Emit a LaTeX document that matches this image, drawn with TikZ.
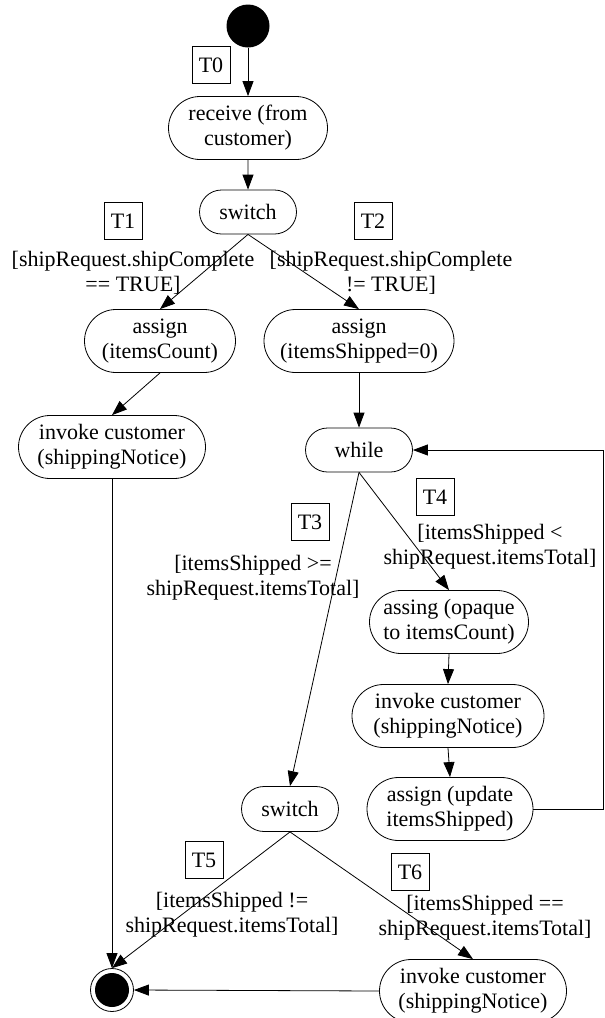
\documentclass[tikz,border=0pt]{standalone}
\usepackage{fontspec}
\setmainfont{Liberation Serif}
\usepackage{tikz}
\usetikzlibrary{shapes,arrows.meta,positioning}

\begin{document}
\begin{tikzpicture}[x=1pt, y=-1pt, line width=0.8pt,
    txt/.style={font=\fontsize{22}{25}\selectfont},
    act/.style={txt, draw, rounded rectangle, inner sep=0pt, minimum height=63pt, align=center},
    tbox/.style={txt, draw, rectangle, inner sep=0pt, minimum width=38pt, minimum height=37pt},
    guard/.style={txt, align=center, inner sep=0pt},
    tr/.style={-{Triangle[length=15pt,width=11pt]}},
    startnode/.style={circle, fill, inner sep=0pt, minimum size=43pt},
    endnode/.style={circle, draw, inner sep=0pt, minimum size=43pt,
        path picture={\fill (path picture bounding box.center) circle (17pt);}}]
    \useasboundingbox (0,0) rectangle (605,1018);

    % Start and receive
    \node[startnode] (start) at (248,26) {};
    \node[tbox] (t0) at (211,65) {T0};
    \node[act, minimum width=159pt] (rcv) at (248,128) {receive (from\\customer)};
    \node[act, minimum width=97pt, minimum height=44pt] (sw1) at (248,212) {switch};
    \draw[tr] (start) -- (rcv);
    \draw[tr] (rcv) -- (sw1);

    % First switch
    \node[tbox] (t1) at (123,221) {T1};
    \node[tbox] (t2) at (373,221) {T2};
    \node[guard] (g1) at (133,273) {[shipRequest.shipComplete\\== TRUE]};
    \node[guard] (g2) at (391,273) {[shipRequest.shipComplete\\!= TRUE]};
    \node[act, minimum width=151pt] (as1) at (160,341) {assign\\(itemsCount)};
    \node[act, minimum width=190pt] (as2) at (359,341) {assign\\(itemsShipped=0)};
    \node[act, minimum width=187pt] (inv1) at (112,447) {invoke customer\\(shippingNotice)};
    \draw[tr] (sw1.south) -- (as1.north);
    \draw[tr] (sw1.south) -- (as2.north);
    \draw[tr] (as1.south) -- (inv1.north);

    % While loop
    \node[act, minimum width=107pt, minimum height=44pt] (wh) at (359,450) {while};
    \node[tbox] (t3) at (310,522) {T3};
    \node[guard] (g3) at (253,578) {[itemsShipped >=\\shipRequest.itemsTotal]};
    \node[tbox] (t4) at (435,497) {T4};
    \node[guard] (g4) at (490,547) {[itemsShipped <\\shipRequest.itemsTotal]};
    \node[act, minimum width=159pt] (asg) at (449,622) {assing (opaque\\to itemsCount)};
    \node[act, minimum width=192pt] (inv2) at (448,716) {invoke customer\\(shippingNotice)};
    \node[act, minimum width=166pt] (as3) at (450,809) {assign (update\\itemsShipped)};
    \coordinate (back) at (603,809);
    \draw[tr] (as2.south) -- (wh.north);
    \draw[tr] (wh.south) -- (asg.north);
    \draw[tr] (asg.south) -- (inv2.north);
    \draw[tr] (inv2.south) -- (as3.north);
    \draw[tr] (as3.east) -- (back) |- (wh.east);

    % Second switch and end
    \node[act, minimum width=97pt, minimum height=45pt] (sw2) at (290,809) {switch};
    \node[tbox] (t5) at (204,860) {T5};
    \node[guard] (g5) at (232,915) {[itemsShipped !=\\shipRequest.itemsTotal]};
    \node[tbox] (t6) at (410,872) {T6};
    \node[guard] (g6) at (485,918) {[itemsShipped ==\\shipRequest.itemsTotal]};
    \node[act, minimum width=187pt] (inv3) at (473,991) {invoke customer\\(shippingNotice)};
    \node[endnode] (fin) at (112,990) {};
    \draw[tr] (wh.south) -- (sw2.north);
    \draw[tr] (sw2.south) -- (fin.north);
    \draw[tr] (sw2.south) -- (inv3.north);
    \draw[tr] (inv1.south) -- (fin.north);
    \draw[tr] (inv3.west) -- (fin.east);
\end{tikzpicture}
\end{document}
